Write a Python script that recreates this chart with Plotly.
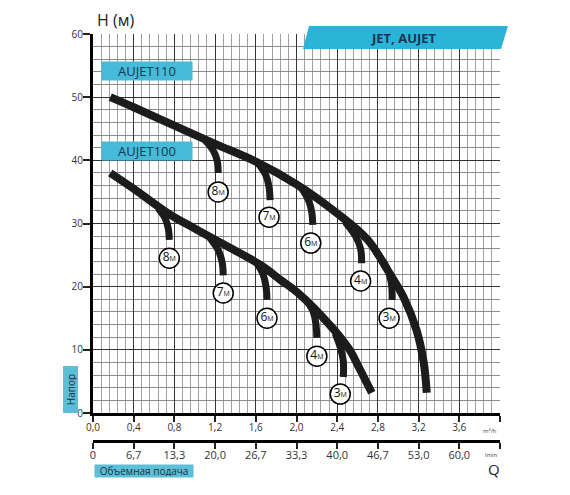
import plotly.graph_objects as go

# flow ticks (m3/h) and the matching l/min labels
q_ticks = [0.0, 0.4, 0.8, 1.2, 1.6, 2.0, 2.4, 2.8, 3.2, 3.6, 4.0]
m3h_labels = ["0,0", "0,4", "0,8", "1,2", "1,6", "2,0", "2,4", "2,8", "3,2", "3,6", ""]
lmin_labels = ["0", "6,7", "13,3", "20,0", "26,7", "33,3", "40,0", "46,7", "53,0", "60,0", ""]

# main pump curves
aujet110_q = [0.17, 0.4, 0.8, 1.2, 1.6, 2.0, 2.4, 2.7, 2.9, 3.05, 3.18, 3.25, 3.28]
aujet110_h = [50.0, 48.4, 45.5, 42.6, 39.8, 36.2, 31.6, 27.4, 22.5, 18.4, 13.1, 8.0, 3.2]
aujet100_q = [0.17, 0.4, 0.73, 1.0, 1.25, 1.65, 1.84, 2.0, 2.16, 2.3, 2.43, 2.53, 2.62, 2.74]
aujet100_h = [38.0, 35.5, 31.7, 29.2, 27.0, 23.4, 21.1, 19.2, 16.8, 14.4, 12.0, 9.8, 7.0, 3.2]

# suction depth branches: (label, q points, h points, label q, label h)
aujet110_branches = [
    ("8", [1.10, 1.18, 1.22, 1.23], [43.2, 41.6, 40.0, 38.0], 1.23, 35.0),
    ("7", [1.62, 1.70, 1.73, 1.74], [39.6, 37.6, 35.8, 33.7], 1.73, 31.0),
    ("6", [2.05, 2.12, 2.15, 2.16], [35.6, 33.6, 31.8, 29.8], 2.14, 26.9),
    ("4", [2.48, 2.58, 2.63, 2.64], [30.2, 28.0, 26.0, 23.7], 2.63, 20.9),
    ("3", [2.78, 2.88, 2.93, 2.94], [25.5, 23.2, 20.8, 17.9], 2.91, 15.0),
]
aujet100_branches = [
    ("8", [0.64, 0.71, 0.74, 0.75], [32.4, 30.8, 29.2, 27.4], 0.75, 24.5),
    ("7", [1.15, 1.23, 1.27, 1.28], [27.7, 25.8, 23.8, 21.8], 1.28, 19.0),
    ("6", [1.61, 1.67, 1.70, 1.71], [23.7, 22.0, 20.0, 17.9], 1.71, 15.0),
    ("4", [2.08, 2.16, 2.19, 2.20], [18.2, 16.2, 14.2, 11.9], 2.20, 9.0),
    ("3", [2.38, 2.43, 2.46, 2.46], [12.6, 10.4, 8.2, 5.7], 2.43, 3.0),
]

CURVE = "#1c1c1c"
BLUE = "#45bbd9"
NAVY = "#1b3452"
FONT = "Open Sans"

fig = go.Figure()


def add_curve(q, h, width):
    fig.add_trace(go.Scatter(x=q, y=h, mode="lines", line=dict(color=CURVE, width=width, shape="spline"),
                             hoverinfo="skip", showlegend=False))


for branches, main_q, main_h in [(aujet110_branches, aujet110_q, aujet110_h),
                                 (aujet100_branches, aujet100_q, aujet100_h)]:
    for lbl, bq, bh, lq, lh in branches:
        add_curve(bq, bh, 7)
    add_curve(main_q, main_h, 8)
    fig.add_trace(go.Scatter(
        x=[b[3] for b in branches], y=[b[4] for b in branches], mode="markers+text",
        marker=dict(size=20, color="white", line=dict(color="black", width=1.5)),
        text=[b[0] + "<span style='font-size:7px'>М</span>" for b in branches],
        textposition="middle center", textfont=dict(family=FONT, size=12, color="#111"),
        hoverinfo="skip", showlegend=False))

# dummy trace so the second flow axis is drawn
fig.add_trace(go.Scatter(x=[0], y=[0], xaxis="x2", mode="markers", marker=dict(opacity=0),
                         hoverinfo="skip", showlegend=False))

# page has an 8px body margin, so the figure is 8px smaller and margins shifted
fig.update_layout(
    width=562, height=487,
    margin=dict(l=85, r=70, t=26, b=54),
    paper_bgcolor="white", plot_bgcolor="white",
    font=dict(family=FONT, color="#333"),
    xaxis=dict(range=[0, 4], tickvals=q_ticks, ticktext=m3h_labels, tickfont=dict(size=10),
               showgrid=True, gridcolor="#333", gridwidth=1.4,
               minor=dict(dtick=0.08, showgrid=True, gridcolor="#a0a0a0", gridwidth=1),
               showline=True, linecolor="black", linewidth=3, ticks="outside", ticklen=6,
               tickwidth=1.5, tickcolor="#222", zeroline=False, anchor="y",
               ticklabelstandoff=-3),
    xaxis2=dict(range=[0, 4], overlaying="x", anchor="free", position=0, side="bottom",
                tickvals=q_ticks, ticktext=lmin_labels, tickfont=dict(size=11),
                showgrid=False, showline=True, linecolor="black", linewidth=3,
                ticks="outside", ticklen=6, tickwidth=1.5, tickcolor="#222", zeroline=False,
                ticklabelstandoff=-3),
    yaxis=dict(range=[0, 60], domain=[0.0688, 1], dtick=10, tickfont=dict(size=10),
               showgrid=True, gridcolor="#333", gridwidth=1.4,
               minor=dict(dtick=2, showgrid=True, gridcolor="#8a8a8a", gridwidth=1),
               showline=True, linecolor="black", linewidth=3, ticks="outside", ticklen=7,
               tickwidth=1.5, tickcolor="#222", zeroline=False, ticklabelstandoff=-2),
)

# "JET, AUJET" banner
fig.add_shape(type="path", xref="paper", yref="paper", layer="above",
              path="M 0.5307,1.0197 L 1.0197,1.0197 L 1.0025,0.9631 L 0.5160,0.9631 Z",
              fillcolor="#2ab5d8", line=dict(width=0))


def label(text, px, py, size, color=NAVY, **kw):
    # px, py are page pixels; plot area spans 93..500 x 34..441 incl. second axis
    fig.add_annotation(text=text, xref="paper", yref="paper",
                       x=(px - 93) / 407, y=(441 - py) / 407, showarrow=False,
                       xanchor="center", yanchor="middle",
                       font=dict(family=FONT, size=size, color=color), **kw)


label("<b>JET, AUJET</b>", 404, 38, 13)
label("AUJET110", 147, 71, 13, bgcolor=BLUE, width=88, height=16, borderpad=1)
label("AUJET100", 147, 151, 13, bgcolor=BLUE, width=88, height=16, borderpad=1)
label("H (м)", 115, 20, 16, color="#222")
label("Напор", 70.5, 390, 10, color="#1d3040", bgcolor="#5cbfd7", textangle=-90, width=44, height=12)
label("Объемная подача", 144, 471, 10, color="#1d3040", bgcolor="#5cbfd7", width=96, height=10)
label("m³/h", 490, 431, 6, color="#444")
label("lmin", 491, 455, 6, color="#444")
label("Q", 494, 469, 15, color="#222")

fig.write_html("out.html")
